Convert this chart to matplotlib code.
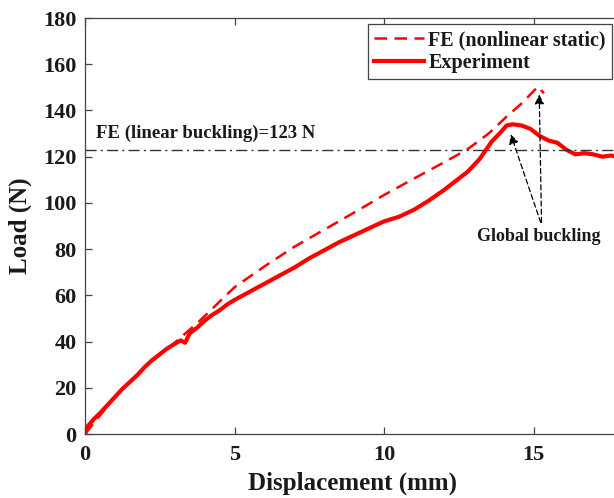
import matplotlib
matplotlib.use("Agg")
import matplotlib.pyplot as plt

plt.rcParams["font.family"] = ["Liberation Serif", "DejaVu Serif"]
plt.rcParams["font.weight"] = "bold"
plt.rcParams["axes.labelweight"] = "bold"

# Experiment
exp_x = [0, 0.1, 0.3, 0.5, 0.75, 1.0, 1.25, 1.5, 1.75, 2.0, 2.25, 2.5, 2.75, 3.0,
         3.2, 3.35, 3.5, 3.75, 4.0, 4.25, 4.5, 4.75, 5.0, 5.5, 6.0, 6.5, 7.0, 7.5,
         8.0, 8.5, 9.0, 9.5, 10.0, 10.5, 11.0, 11.5, 12.0, 12.4, 12.8, 13.2, 13.6,
         13.9, 14.1, 14.3, 14.6, 14.9, 15.2, 15.5, 15.8, 16.1, 16.4, 16.7, 17.0,
         17.3, 17.6, 17.9, 18.2]
exp_y = [0, 3.5, 6.5, 9, 12.5, 16, 19.5, 22.5, 25.5, 29, 32, 34.5, 37, 39,
         40.5, 39.5, 43.5, 46, 49, 51.5, 53.5, 56, 58, 61.5, 65, 68.5, 72, 76,
         79.5, 83, 86, 89, 92, 94, 97, 101, 105.5, 109.5, 113.5, 119, 126.5,
         130.5, 133.5, 134, 133.5, 132, 129, 127, 126, 123, 121, 121.5, 121,
         120, 120.5, 119.5, 120]

# FE nonlinear static
fe_x = [0, 1, 2, 3, 3.8, 5, 6, 7, 8, 9, 10, 11, 12, 12.76, 13.5, 14.1, 14.6, 15.15, 15.35]
fe_y = [0, 16, 29, 39.5, 48.5, 63.5, 72.5, 81, 88.4, 95.8, 103.4, 110.5, 117.5, 122.9,
        130, 137.3, 143, 150.3, 147.4]

fe_buckling = 123

fig = plt.figure(figsize=(6.14, 4.98), dpi=100)
ax = fig.add_axes([85 / 614, 64 / 498, 598 / 614, 416 / 498])

ax.plot(fe_x, fe_y, color="#ff0000", lw=1.8, dashes=(5, 3),
        label="FE (nonlinear static)")
ax.plot(exp_x, exp_y, color="#ff0000", lw=3.0, label="Experiment")
ax.axhline(fe_buckling, color="#333333", lw=1.0, dashes=(8, 3, 1.5, 3))

ax.text(0.37, 126.3, "FE (linear buckling)=123 N", fontsize=13.5,
        color="#1a1a1a", ha="left", va="bottom")

arrow = dict(arrowstyle="-|>", color="black", lw=0.9, linestyle=(0, (4, 2.5)),
             mutation_scale=14)
ax.annotate("", xy=(14.21, 130.8), xytext=(15.27, 90.4), arrowprops=arrow)
ax.annotate("", xy=(15.19, 148.1), xytext=(15.27, 90.4), arrowprops=arrow)
ax.text(15.17, 89.3, "Global buckling", fontsize=13, color="#1a1a1a",
        ha="center", va="top")

ax.set_xlim(0, 20)
ax.set_ylim(0, 180)
ax.set_xticks([0, 5, 10, 15])
ax.set_yticks(range(0, 181, 20))
ax.tick_params(direction="in", top=True, right=True, length=5, width=0.9,
               color="#444444", labelsize=16, labelcolor="#1a1a1a")
ax.tick_params(axis="x", pad=8)
ax.tick_params(axis="y", pad=6)
for s in ax.spines.values():
    s.set_color("#444444"); s.set_linewidth(0.9)

ax.set_xlabel("Displacement (mm)", fontsize=18, color="#1a1a1a")
ax.set_ylabel("Load (N)", fontsize=18, color="#1a1a1a")
ax.xaxis.set_label_coords((352 - 85) / 598, -0.09)
ax.yaxis.set_label_coords(-0.088, 0.5)

leg = ax.legend(loc="upper right", bbox_to_anchor=(612 / 614, 1 - 24 / 498),
                bbox_transform=fig.transFigure, fontsize=14.5, frameon=True,
                fancybox=False, framealpha=1, edgecolor="#444444",
                handlelength=2.5, handletextpad=0.2, borderpad=0.3,
                labelspacing=0.15, borderaxespad=0)
leg.get_frame().set_linewidth(0.9)
for t in leg.get_texts():
    t.set_color("#1a1a1a")

fig.savefig("out.png", dpi=100)
